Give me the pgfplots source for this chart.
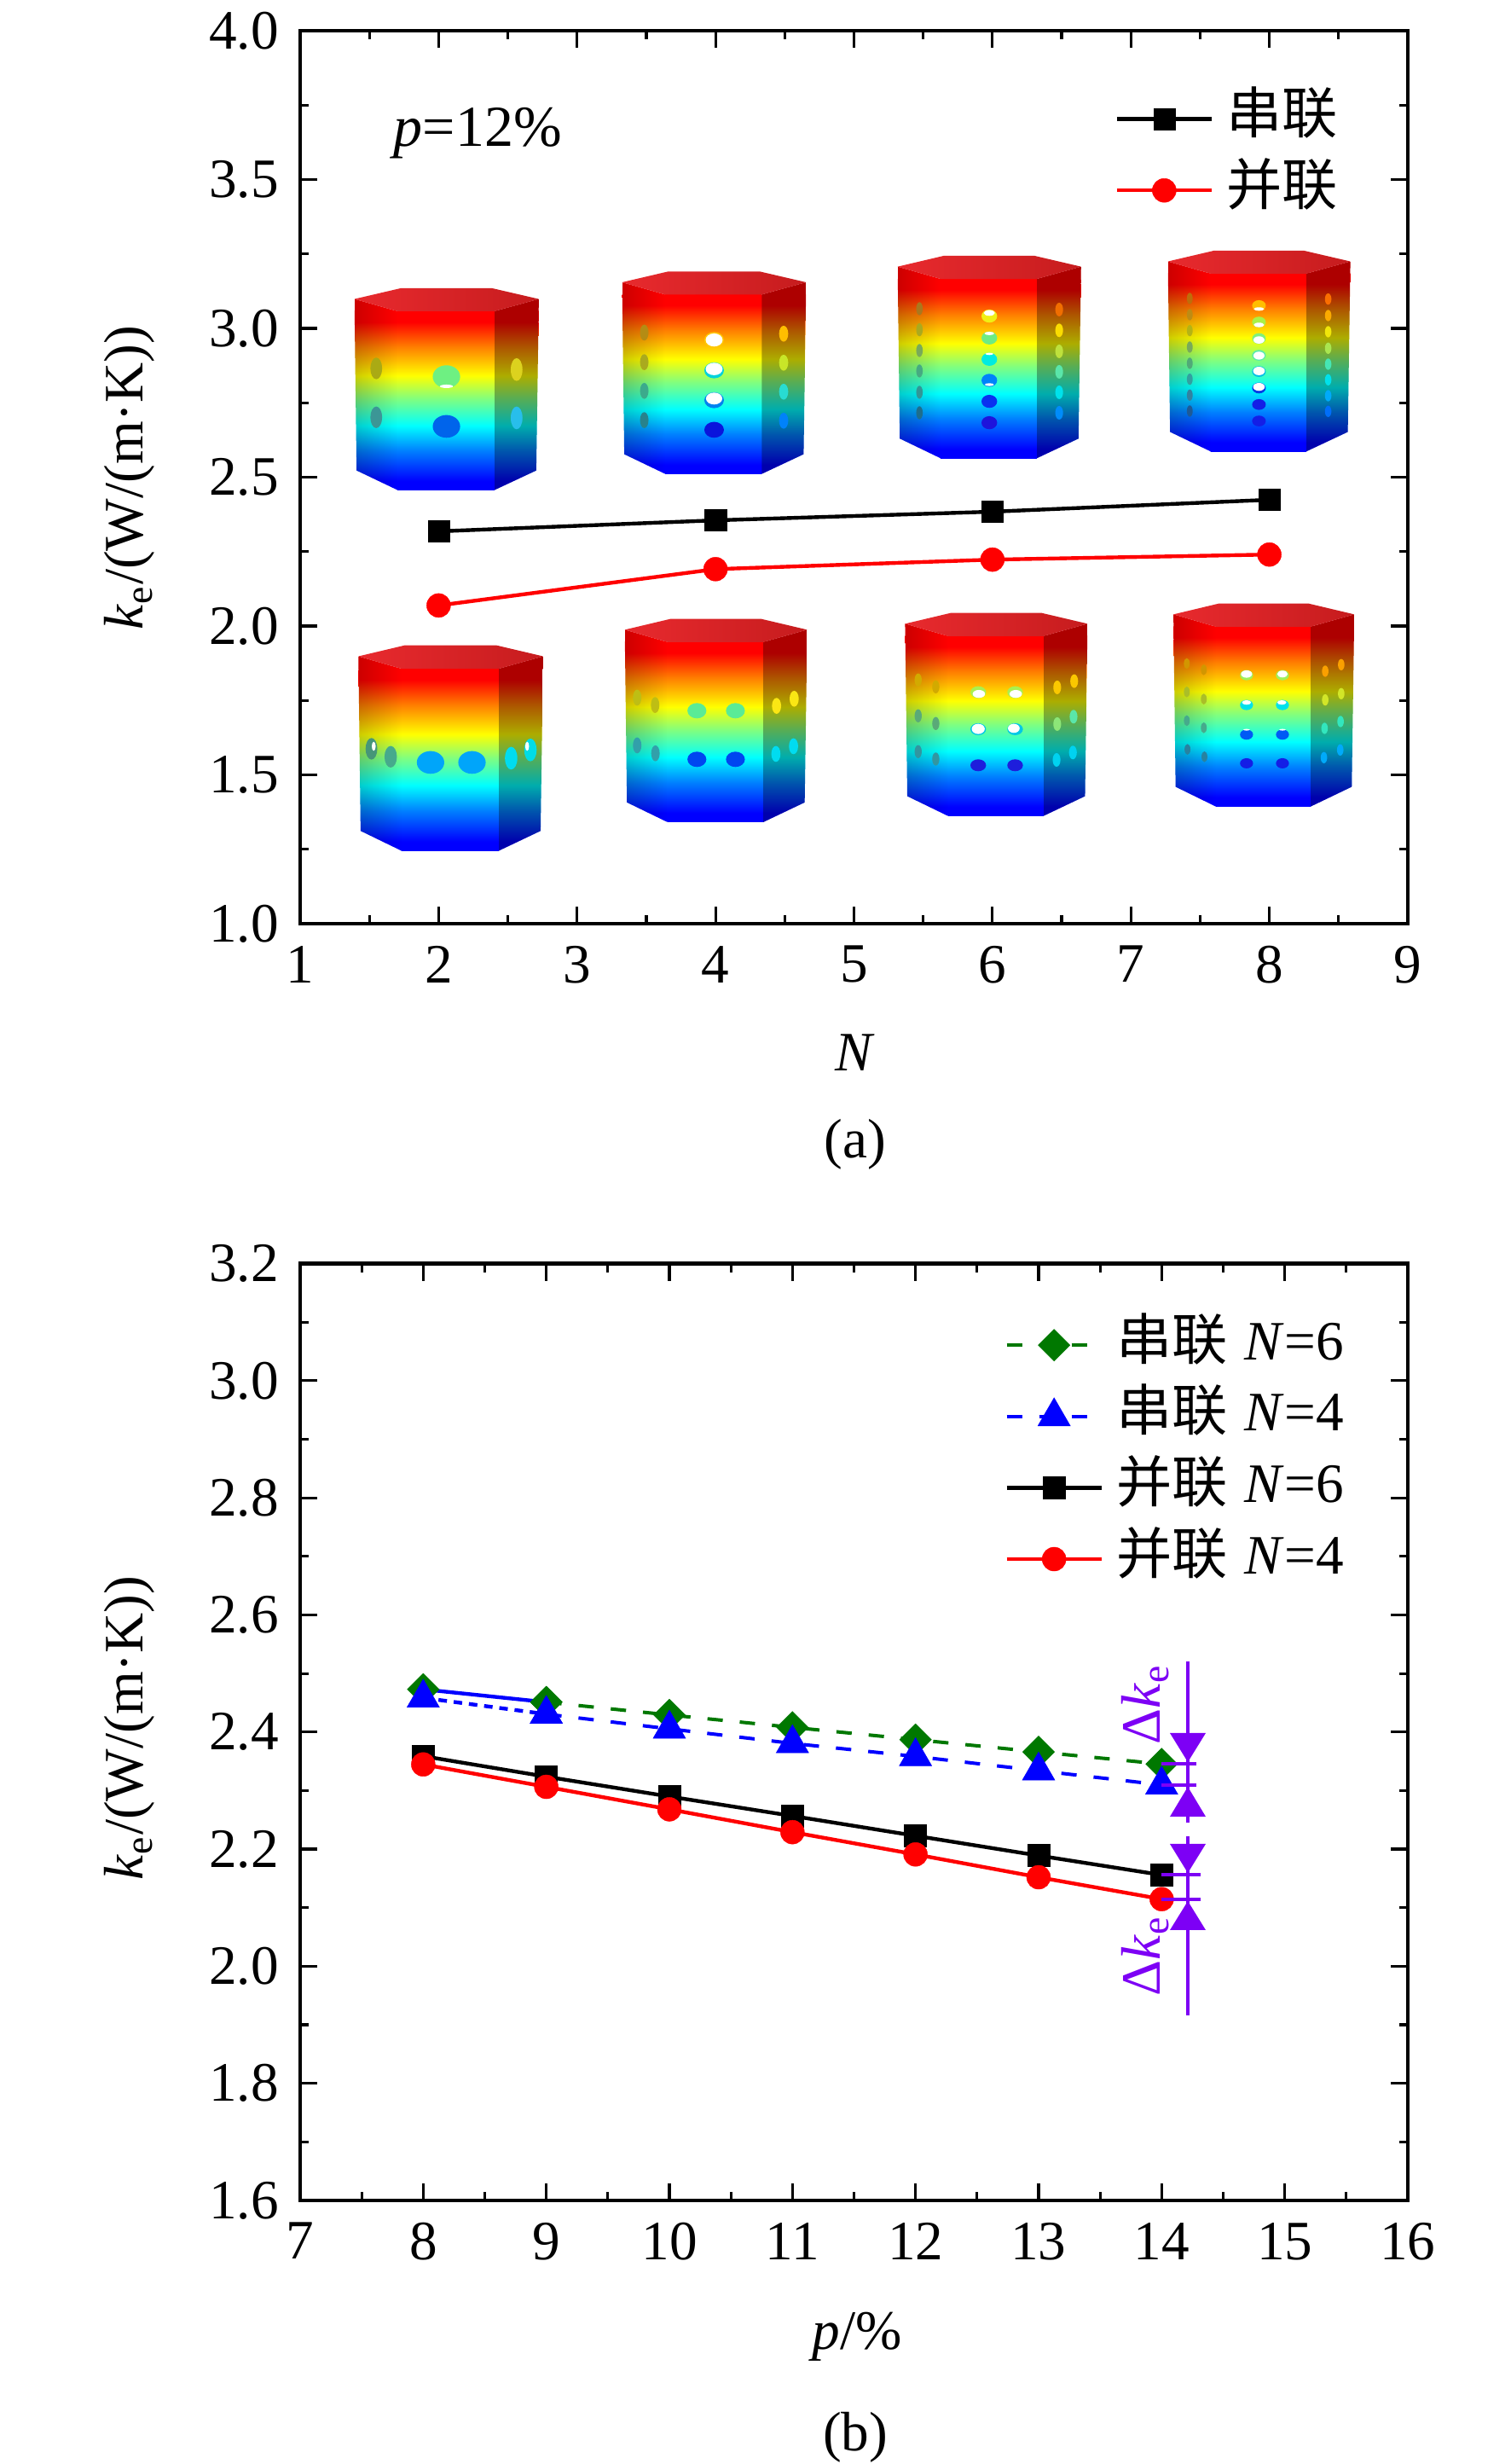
\documentclass[border=0pt]{standalone}
\usepackage{fontspec}
\usepackage{pgfplots}
\pgfplotsset{compat=1.18}
\usetikzlibrary{fadings}
\setmainfont{Liberation Serif}
\newfontfamily\cjk{Noto Sans CJK SC}
\newcommand{\ke}{\textit{k}\textsubscript{e}}
\newcommand{\lab}{\fontsize{16.3}{19}\selectfont}

\definecolor{vio}{RGB}{125,0,245}
\definecolor{dgreen}{RGB}{0,120,0}

% jet map of the model pictures, bottom to top (the path covers 25bp to 75bp)
\pgfdeclareverticalshading{jet}{100bp}{
  rgb(0bp)=(0,0,1);
  rgb(27.5bp)=(0,0,1);
  rgb(36bp)=(0,0.5,1);
  rgb(43bp)=(0,1,1);
  rgb(50.5bp)=(0.5,1,0.5);
  rgb(57bp)=(1,1,0);
  rgb(65bp)=(1,0.5,0);
  rgb(72bp)=(1,0,0);
  rgb(100bp)=(1,0,0)}

% hexagonal prism: left, top, width, height (in crop units)
\newcommand{\prism}[4]{%
  \pgfmathsetmacro{\pL}{#1}\pgfmathsetmacro{\pT}{#2}\pgfmathsetmacro{\pW}{#3}\pgfmathsetmacro{\pH}{#4}%
  \pgfmathsetmacro{\xa}{\pL}\pgfmathsetmacro{\xb}{\pL+.234*\pW}\pgfmathsetmacro{\xc}{\pL+.759*\pW}\pgfmathsetmacro{\xd}{\pL+\pW}%
  \pgfmathsetmacro{\xe}{\pL+.012*\pW}\pgfmathsetmacro{\xf}{\pL+.986*\pW}%
  \pgfmathsetmacro{\xg}{\pL+.251*\pW}\pgfmathsetmacro{\xh}{\pL+.747*\pW}%
  \pgfmathsetmacro{\ya}{\pT+.0535*\pH}\pgfmathsetmacro{\yb}{\pT+.114*\pH}\pgfmathsetmacro{\yc}{\pT+.903*\pH}\pgfmathsetmacro{\yd}{\pT+\pH}%
  \begin{scope}
    \clip (\xb,\yb)--(\xc,\yb)--(\xc,\yd)--(\xb,\yd)--cycle;
    \shade[shading=jet] (\xa,\yb) rectangle (\xd,\yd);
  \end{scope}
  \begin{scope}
    \clip (\xa,\ya)--(\xb,\yb)--(\xb,\yd)--(\xe,\yc)--cycle;
    \fill[red] (\xa,\ya) rectangle (\xb,\yb);
    \shade[shading=jet] (\xa,\yb) rectangle (\xd,\yd);
    \fill[black,fill opacity=.2,path fading=east] (\xa,\ya) rectangle (\xb,\yd);
  \end{scope}
  \begin{scope}
    \clip (\xc,\yb)--(\xd,\ya)--(\xf,\yc)--(\xc,\yd)--cycle;
    \fill[red] (\xc,\ya) rectangle (\xd,\yb);
    \shade[shading=jet] (\xa,\yb) rectangle (\xd,\yd);
    \fill[black,fill opacity=.32] (\xc,\ya) rectangle (\xd,\yd);
  \end{scope}
  \shade[left color={rgb,255:red,232;green,42;blue,46},right color={rgb,255:red,198;green,28;blue,30}]
    (\xa,\ya)--(\xg,\pT)--(\xh,\pT)--(\xd,\ya)--(\xc,\yb)--(\xb,\yb)--cycle;}
\newcommand{\h}[5]{\definecolor{hc}{RGB}{#5}\fill[hc] (#1,#2) ellipse [x radius=#3,y radius=#4];}
\newcommand{\w}[4]{\fill[white] (#1,#2) ellipse [x radius=#3,y radius=#4];}

\pgfplotsset{
  every axis/.append style={
    scale only axis,
    width=324.75pt,
    axis line style={line width=1.15pt},
    tick align=inside,
    major tick length=5pt,
    minor tick length=2.5pt,
    every tick/.style={black,line width=.8pt},
    tick label style={font=\lab},
    xticklabel style={yshift=-3pt},
    yticklabel style={xshift=-2.8pt},
    /pgf/number format/assume math mode=true,
    legend cell align=left,
    legend style={draw=none,fill=none,font=\lab,inner sep=0pt,row sep=5.4pt,
      nodes={inner sep=0pt,text height=12pt,text depth=3.5pt}},
  },
  line a/.style={line width=1.1pt,solid},
  leg/.style={legend image code/.code={
    \draw[mark repeat=2,mark phase=2,##1] plot coordinates {(0,0) (13.9pt,0) (27.8pt,0)};}},
}

\begin{document}
\begin{tikzpicture}
\useasboundingbox (0,0) rectangle (443pt,722.25pt);

% model pictures, placed in crop units of the picture
\begin{scope}[shift={(380*.25pt,722.25pt-300*.25pt)},x=.25pt/2.613,y=-.25pt/3]
  \prism{93}{114}{565}{710}
  \h{375}{425}{42}{40}{110,240,130}\w{375}{459}{20}{6}
  \h{375}{600}{42}{40}{0,100,235}
  \h{160}{396}{18}{38}{170,170,20}\h{160}{568}{18}{38}{60,150,150}
  \h{590}{400}{18}{40}{220,210,30}\h{590}{570}{18}{40}{40,190,235}
  \prism{913}{55}{564}{712}
  \h{1195}{296}{30}{28}{255,200,0}\w{1195}{296}{26}{23}
  \h{1195}{403}{30}{28}{0,210,220}\w{1195}{398}{26}{22}
  \h{1195}{508}{30}{28}{0,130,240}\w{1195}{502}{25}{21}
  \h{1195}{612}{30}{28}{10,20,220}
  \h{981}{270}{13}{28}{180,140,20}\h{981}{374}{13}{28}{170,170,30}
  \h{981}{475}{13}{28}{60,170,140}\h{981}{578}{13}{28}{40,130,140}
  \h{1408}{274}{14}{28}{255,190,0}\h{1408}{376}{14}{28}{200,230,40}
  \h{1408}{478}{14}{28}{40,220,210}\h{1408}{580}{14}{28}{0,130,250}
\end{scope}
\begin{scope}[shift={(400*.25pt,722.25pt-700*.25pt)},x=.25pt/2.613,y=-.25pt/3]
  \prism{53}{170}{566}{723}
  \h{274}{582}{42}{40}{0,165,250}\h{401}{582}{42}{40}{0,165,250}
  \h{93}{534}{18}{38}{70,150,120}\w{100}{525}{6}{16}\h{152}{562}{19}{38}{70,170,140}
  \h{521}{567}{19}{40}{0,220,240}\h{580}{538}{19}{40}{0,220,230}\w{570}{525}{6}{16}
  \prism{869}{77}{559}{715}
  \h{1090}{400}{29}{27}{90,235,150}\h{1208}{400}{29}{27}{90,235,150}
  \h{1090}{571}{29}{27}{0,70,240}\h{1208}{571}{29}{27}{0,70,240}
  \h{907}{354}{13}{28}{190,190,20}\h{962}{380}{13}{28}{190,190,20}
  \h{907}{522}{13}{28}{50,160,170}\h{963}{550}{13}{28}{50,160,170}
  \h{1334}{383}{14}{28}{250,230,20}\h{1388}{358}{14}{28}{250,230,20}
  \h{1332}{552}{14}{28}{0,220,240}\h{1386}{525}{14}{28}{0,220,240}
\end{scope}
\begin{scope}[shift={(1040*.25pt,722.25pt-280*.25pt)},x=.25pt/2.613,y=-.25pt/3]
  \prism{33}{60}{562}{712}
  \h{314}{272}{24}{23}{240,240,20}\w{314}{261}{17}{10}
  \h{314}{349}{24}{23}{110,235,130}\w{314}{333}{15}{6}
  \h{314}{424}{24}{23}{0,235,225}\w{314}{405}{12}{4}
  \h{314}{498}{24}{23}{0,130,250}\w{314}{513}{14}{5}
  \h{314}{572}{24}{23}{10,50,240}\h{314}{647}{24}{23}{30,20,220}
  \h{100}{246}{10}{23}{170,120,30}\h{100}{320}{10}{23}{170,170,30}\h{100}{393}{10}{23}{120,170,90}
  \h{100}{465}{10}{23}{70,170,130}\h{100}{540}{10}{23}{50,150,150}\h{100}{612}{10}{23}{30,110,140}
  \h{528}{249}{12}{24}{240,110,0}\h{528}{322}{12}{24}{250,220,0}\h{528}{396}{12}{24}{190,225,60}
  \h{528}{468}{12}{24}{90,230,170}\h{528}{540}{12}{24}{0,225,235}\h{528}{612}{12}{24}{0,140,250}
  \prism{861}{42}{559}{706}
  \h{1140}{235}{21}{19}{255,190,0}\w{1140}{247}{16}{6}
  \h{1140}{293}{21}{19}{170,240,70}\w{1140}{303}{16}{8}
  \h{1140}{351}{21}{19}{130,240,120}\w{1140}{356}{17}{13}
  \h{1140}{410}{21}{19}{90,235,170}\w{1140}{411}{17}{14}
  \h{1140}{467}{21}{19}{0,190,230}\w{1140}{465}{18}{15}
  \h{1140}{525}{21}{19}{0,60,230}\w{1140}{521}{18}{14}
  \h{1140}{583}{21}{19}{20,30,230}\h{1140}{641}{21}{19}{20,30,230}
  \h{928}{210}{9}{20}{190,110,10}\h{928}{267}{9}{20}{190,140,20}\h{928}{323}{9}{20}{180,180,20}\h{928}{381}{9}{20}{120,170,90}
  \h{928}{438}{9}{20}{80,170,120}\h{928}{494}{9}{20}{50,160,160}\h{928}{550}{9}{20}{50,130,160}\h{928}{606}{9}{20}{30,90,150}
  \h{1352}{212}{10}{20}{250,110,0}\h{1352}{270}{10}{20}{250,170,0}\h{1352}{327}{10}{20}{240,230,10}\h{1352}{385}{10}{20}{170,230,80}
  \h{1352}{441}{10}{20}{70,230,180}\h{1352}{496}{10}{20}{0,225,235}\h{1352}{552}{10}{20}{0,170,250}\h{1352}{607}{10}{20}{0,110,250}
\end{scope}
\begin{scope}[shift={(1040*.25pt,722.25pt-700*.25pt)},x=.25pt/2.613,y=-.25pt/3]
  \prism{56}{56}{559}{714}
  \h{280}{335}{24}{21}{170,240,80}\w{282}{341}{19}{14}\h{393}{335}{24}{21}{170,240,80}\w{395}{341}{19}{14}
  \h{280}{465}{24}{21}{0,200,230}\w{280}{464}{20}{18}\h{393}{465}{24}{21}{0,200,230}\w{389}{462}{18}{16}
  \h{280}{592}{24}{21}{30,30,220}\h{393}{592}{24}{21}{30,30,220}
  \h{96}{292}{11}{23}{210,170,0}\h{150}{316}{11}{23}{210,170,0}
  \h{96}{418}{11}{23}{90,170,120}\h{150}{445}{11}{23}{90,170,120}
  \h{96}{544}{11}{23}{50,150,160}\h{150}{570}{11}{23}{50,150,160}
  \h{522}{318}{12}{24}{250,200,0}\h{574}{296}{12}{24}{250,200,0}
  \h{522}{447}{12}{24}{140,230,120}\h{572}{421}{12}{24}{90,230,170}
  \h{520}{573}{12}{24}{0,210,240}\h{570}{547}{12}{24}{0,210,240}
  \prism{878}{23}{554}{714}
  \h{1102}{275}{20}{18}{160,240,90}\w{1102}{271}{17}{13}\h{1212}{275}{20}{18}{160,240,90}\w{1212}{271}{16}{12}
  \h{1102}{380}{20}{18}{0,225,235}\w{1102}{371}{14}{8}\h{1212}{380}{20}{18}{0,225,235}\w{1210}{371}{14}{8}
  \h{1102}{484}{20}{18}{0,90,245}\w{1102}{467}{10}{3}\h{1212}{484}{20}{18}{0,90,245}\w{1212}{467}{10}{3}
  \h{1102}{585}{20}{18}{20,30,230}\h{1212}{585}{20}{18}{20,30,230}
  \h{919}{234}{9}{19}{210,150,0}\h{971}{256}{9}{19}{210,150,0}
  \h{919}{334}{9}{19}{170,190,40}\h{971}{359}{9}{19}{170,190,40}
  \h{919}{435}{9}{19}{70,170,140}\h{971}{460}{9}{19}{70,170,140}
  \h{921}{536}{9}{19}{40,130,160}\h{973}{562}{9}{19}{40,130,160}
  \h{1343}{261}{10}{20}{250,160,0}\h{1392}{238}{10}{20}{250,160,0}
  \h{1343}{362}{10}{20}{210,230,40}\h{1392}{340}{10}{20}{210,230,40}
  \h{1341}{462}{10}{20}{50,230,190}\h{1390}{438}{10}{20}{50,230,190}
  \h{1339}{565}{10}{20}{0,170,250}\h{1389}{538}{10}{20}{0,170,250}
\end{scope}

% (a)
\begin{axis}[
  name=a,
  at={(88pt,451.5pt)},anchor=south west,
  height=261.75pt,
  xmin=1,xmax=9,ymin=1,ymax=4,
  xtick distance=1,ytick distance=.5,
  minor x tick num=1,minor y tick num=1,
  yticklabel style={/pgf/number format/fixed,/pgf/number format/fixed zerofill,/pgf/number format/precision=1},
  leg,
  legend style={at={(axis cs:6.88,3.794)},anchor=north west},
]
\addplot[black,line a,mark=square*,mark size=3.15pt,mark options={line width=.1pt}] coordinates {(2,2.318) (4,2.355) (6,2.384) (8,2.424)};
\addlegendentry{\hspace{3.85pt}{\cjk 串联}}
\addplot[red,line a,mark=*,mark size=3.5pt,mark options={line width=.1pt}] coordinates {(2,2.069) (4,2.191) (6,2.223) (8,2.24)};
\addlegendentry{\hspace{3.85pt}{\cjk 并联}}
\end{axis}

% (b)
\begin{axis}[
  name=b,
  at={(88pt,77.25pt)},anchor=south west,
  height=274.6pt,
  xmin=7,xmax=16,ymin=1.6,ymax=3.2,
  xtick distance=1,ytick distance=.2,
  minor x tick num=1,minor y tick num=1,
  yticklabel style={/pgf/number format/fixed,/pgf/number format/fixed zerofill,/pgf/number format/precision=1},
  leg,
  legend style={at={(axis cs:12.72,3.107)},anchor=north west},
]
\addplot[dgreen,line a,line width=1pt,dash pattern=on 4.5pt off 5pt,mark=square*,mark size=3.3pt,mark options={solid,rotate=45,line width=.1pt}]
  coordinates {(9,2.451) (10,2.4292) (11,2.408) (12,2.387) (13,2.366) (14,2.3453)};
\addlegendentry{\hspace{3.85pt}{\cjk 串联}\hspace{5pt}\textit{N}=6}
\addplot[blue,line a,line width=1pt,dash pattern=on 4.5pt off 5pt,mark=triangle*,mark size=5.5pt,mark options={solid,line width=.1pt}]
  coordinates {(9,2.4306) (10,2.4054) (11,2.3806) (12,2.3583) (13,2.334) (14,2.3097)};
\addlegendentry{\hspace{3.85pt}{\cjk 串联}\hspace{5pt}\textit{N}=4}
\addplot[black,line a,mark=square*,mark size=3.25pt,mark options={line width=.1pt}]
  coordinates {(8,2.3588) (9,2.3238) (10,2.2899) (11,2.2567) (12,2.2228) (13,2.189) (14,2.1559)};
\addlegendentry{\hspace{3.85pt}{\cjk 并联}\hspace{5pt}\textit{N}=6}
\addplot[red,line a,mark=*,mark size=3.5pt,mark options={line width=.1pt}]
  coordinates {(8,2.3447) (9,2.3064) (10,2.268) (11,2.229) (12,2.191) (13,2.152) (14,2.1146)};
\addlegendentry{\hspace{3.85pt}{\cjk 并联}\hspace{5pt}\textit{N}=4}
% the first segment of the two upper curves is drawn differently
\addplot[blue,line a,forget plot] coordinates {(8,2.4729) (9,2.451)};
\addplot[blue,line a,dash pattern=on 2.5pt off 2pt,forget plot] coordinates {(8,2.4583) (9,2.4306)};
\addplot[dgreen,only marks,mark=square*,mark size=3.3pt,mark options={rotate=45,line width=.1pt},forget plot] coordinates {(8,2.4729) (9,2.451)};
\addplot[blue,only marks,mark=triangle*,mark size=5.5pt,mark options={line width=.1pt},forget plot] coordinates {(8,2.4583) (9,2.4306)};
\end{axis}

% texts and the two dimension arrows, in picture pixels
\begin{scope}[shift={(0,722.25pt)},x=.25pt,y=-.25pt,font=\lab]
  \node[rotate=90] at (152,560) {\ke/(W/(m·K))};
  \node[rotate=90] at (152,2026) {\ke/(W/(m·K))};
  \node at (1003,1234) {\textit{N}};
  \node at (1003,1342) {(a)};
  \node at (1005,2740) {\textit{p}/\%};
  \node at (1003,2858) {(b)};
  \node[anchor=base west,inner sep=0pt,font=\fontsize{17}{19}\selectfont] at (461,172) {\textit{p}=12\%};
  \begin{scope}[vio,line width=1pt]
    \draw (1393,1948)--(1393,2137);
    \fill (1372,2032)--(1414,2032)--(1393,2066)--cycle;
    \fill (1372,2130)--(1414,2130)--(1393,2095)--cycle;
    \draw (1362,2068)--(1403,2068) (1362,2093)--(1403,2093);
    \draw (1393,2153)--(1393,2363);
    \fill (1372,2162)--(1414,2162)--(1393,2196)--cycle;
    \fill (1372,2263)--(1414,2263)--(1393,2229)--cycle;
    \draw (1362,2198)--(1408,2198) (1362,2227)--(1408,2227);
    \node[rotate=90,text=vio] at (1343,1998) {Δ\ke};
    \node[rotate=90,text=vio] at (1343,2293) {Δ\ke};
  \end{scope}
\end{scope}
\end{tikzpicture}
\end{document}
